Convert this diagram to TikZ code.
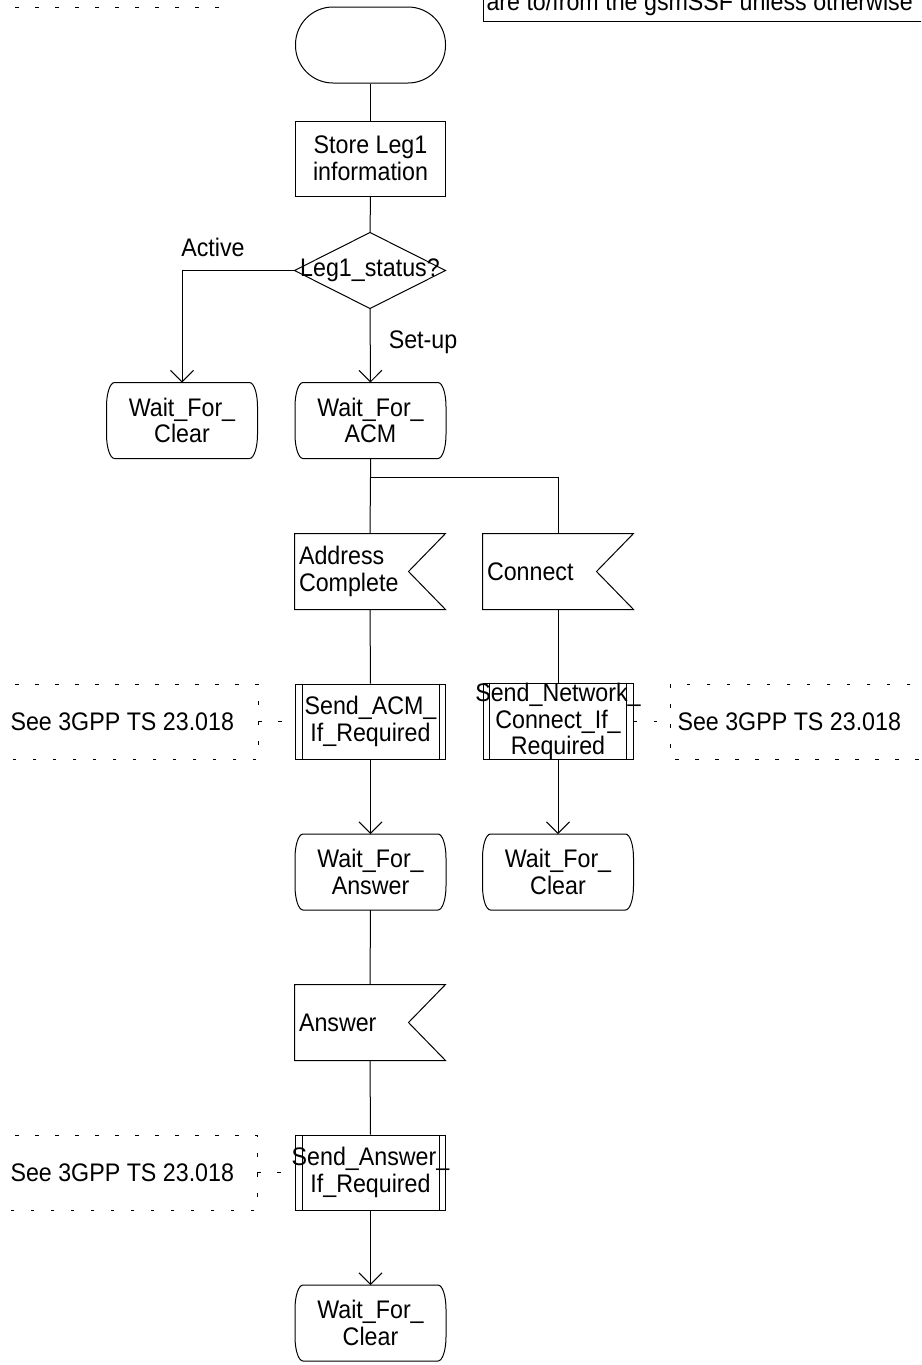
\documentclass[tikz,border=0pt]{standalone}
\usepackage{fontspec}
\setmainfont[FakeStretch=0.915]{Liberation Sans}
\usetikzlibrary{arrows.meta,calc}
\newcommand\fsz{\fontsize{25.4pt}{26.5pt}\selectfont}
\newcommand\ctr[1]{\makebox[0pt][c]{#1}}
\tikzset{
  shp/.style={minimum width=150pt, minimum height=75pt, inner sep=0pt, align=center},
  startbox/.style={shp, draw, rounded corners=37.5pt, minimum height=76pt},
  taskbox/.style={shp, draw},
  statebox/.style={shp, append after command={\pgfextra{
    \draw ([xshift=8pt]\tikzlastnode.north west) -- ([xshift=-8pt]\tikzlastnode.north east)
      arc[start angle=90,end angle=0,x radius=8pt,y radius=24pt]
      -- ([yshift=24pt]\tikzlastnode.south east)
      arc[start angle=0,end angle=-90,x radius=8pt,y radius=24pt]
      -- ([xshift=8pt]\tikzlastnode.south west)
      arc[start angle=270,end angle=180,x radius=8pt,y radius=24pt]
      -- ([yshift=-24pt]\tikzlastnode.north west)
      arc[start angle=180,end angle=90,x radius=8pt,y radius=24pt] -- cycle;}}},
  decisionbox/.style={shp, append after command={\pgfextra{
    \draw (\tikzlastnode.west) -- (\tikzlastnode.north) -- (\tikzlastnode.east)
      -- (\tikzlastnode.south) -- cycle;}}},
  inputbox/.style={shp, text width=142pt, align=left, append after command={\pgfextra{
    \draw (\tikzlastnode.north west) -- (\tikzlastnode.north east)
      -- ([xshift=-37pt]\tikzlastnode.east) -- (\tikzlastnode.south east)
      -- (\tikzlastnode.south west) -- cycle;}}},
  procbox/.style={shp, draw, append after command={\pgfextra{
    \draw ([xshift=7pt]\tikzlastnode.north west) -- ([xshift=7pt]\tikzlastnode.south west);
    \draw ([xshift=-7pt]\tikzlastnode.north east) -- ([xshift=-7pt]\tikzlastnode.south east);}}},
  notetext/.style={inner sep=0pt, anchor=west},
  lbl/.style={inner sep=0pt},
  dashline/.style={dash pattern=on 3.5pt off 16.5pt},
  flow/.style={-{Straight Barb[length=11.5pt,width=23pt]}},
}
\begin{document}
\begin{tikzpicture}[x=1pt,y=1pt,line width=1pt,font=\fsz]
\useasboundingbox (0,0) rectangle (921,-1365);
\clip (0,0) rectangle (921,-1365);

% top fragments
\draw[dashline] (-5,-7) -- (226,-7) -- (226,5);
\draw (483,5) -- (483,-21) -- (930,-21);
\node[anchor=base west, inner sep=0pt] (topnote) at (486,-10) {are to/from the gsmSSF unless otherwise};

% main nodes
\node[startbox] (start) at (370.5,-45) {};
\node[taskbox] (store) at (370.5,-158.5) {Store Leg1\\information};
\node[decisionbox] (dec) at (370,-270.5) {\ctr{Leg1\_status?}};
\node[statebox] (wc1) at (182,-420.5) {Wait\_For\_\\Clear};
\node[statebox] (wacm) at (370.5,-420.5) {Wait\_For\_\\ACM};
\coordinate (br) at (370.5,-477);
\coordinate (brr) at (558,-477);
\node[inputbox] (addr) at (370,-571.5) {Address\\Complete};
\node[inputbox] (conn) at (558,-571.5) {Connect};
\node[procbox] (sacm) at (370.5,-721.5) {\ctr{Send\_ACM\_}\\\ctr{If\_Required}};
\node[procbox] (snet) at (558,-721.5) {\ctr{Send\_Network\_}\\\ctr{Connect\_If\_}\\\ctr{Required}};
\node[statebox] (wans) at (370.5,-872) {Wait\_For\_\\Answer};
\node[statebox] (wc2) at (558,-872) {Wait\_For\_\\Clear};
\node[inputbox] (ans) at (370,-1022.5) {Answer};
\node[procbox] (sans) at (370.5,-1172.5) {\ctr{Send\_Answer\_}\\\ctr{If\_Required}};
\node[statebox] (wc3) at (370.5,-1323) {Wait\_For\_\\Clear};

% labels
\node[lbl] (lact) at (213,-247) {Active};
\node[lbl] (lset) at (423,-342) {Set-up};

% connectors
\draw (start.south) -- (store.north);
\draw (store.south) -- (dec.north);
\draw[flow] (dec.west) -| (wc1.north);
\draw[flow] (dec.south) -- (wacm.north);
\draw (wacm.south) -- (br) -- (addr.north);
\draw (br) -- (brr) -- (conn.north);
\draw (addr.south) -- (sacm.north);
\draw (conn.south) -- (snet.north);
\draw[flow] (sacm.south) -- (wans.north);
\draw[flow] (snet.south) -- (wc2.north);
\draw (wans.south) -- (ans.north);
\draw (ans.south) -- (sans.north);
\draw[flow] (sans.south) -- (wc3.north);

% comments
\draw[dashline] (-5,-684) -- (258,-684) -- (258,-759) -- (-5,-759);
\node[notetext] (c1) at (10,-721.5) {See 3GPP TS 23.018};
\coordinate (c1e) at (258,-721.5);
\draw[dashline] (c1e) -- (sacm.west);

\draw[dashline] (930,-684) -- (670,-684) -- (670,-759) -- (930,-759);
\node[notetext] (c2) at (677,-721.5) {See 3GPP TS 23.018};
\coordinate (c2w) at (670,-721.5);
\draw[dashline] (snet.east) -- (c2w);

\draw[dashline] (-5,-1135) -- (257,-1135) -- (257,-1210) -- (-5,-1210);
\node[notetext] (c3) at (10,-1172.5) {See 3GPP TS 23.018};
\coordinate (c3e) at (257,-1172.5);
\draw[dashline] (c3e) -- (sans.west);
\end{tikzpicture}
\end{document}
